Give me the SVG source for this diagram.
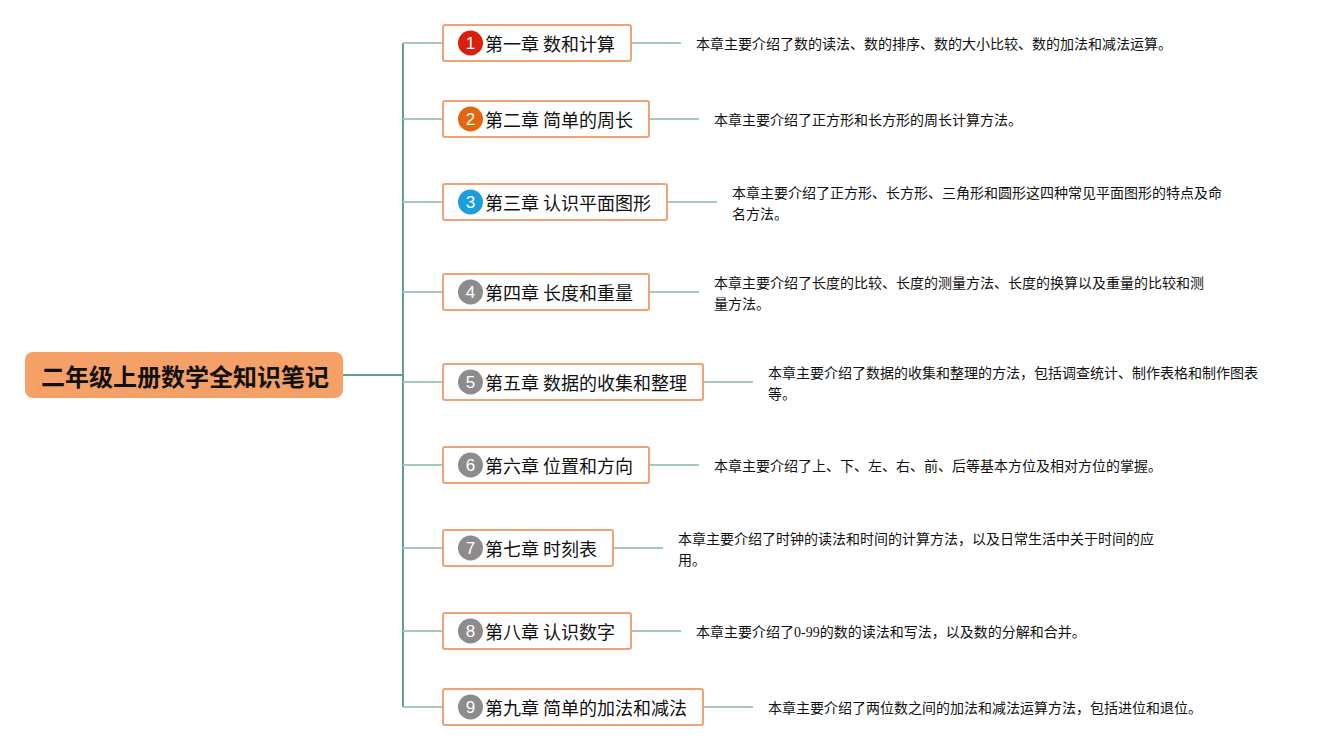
<svg xmlns="http://www.w3.org/2000/svg" width="1328" height="750" viewBox="0 0 1328 750">
<style>
text{font-family:"Noto Sans CJK SC","Liberation Sans",sans-serif;fill:#111}
.box{fill:#fff;stroke:#efa273;stroke-width:2}
.tt{font-size:18px}
.d{font-size:14px}
.n{font-family:"Liberation Sans",sans-serif;font-size:17px;fill:#fff;text-anchor:middle}
.l{fill:none;stroke:#a5c9bd;stroke-width:2}
.g{fill:#8e8b8c}
</style>
<rect width="1328" height="750" fill="#fff"/>
<g id="connectors">
<path d="M343 375H403" fill="none" stroke="#5f9d8c" stroke-width="2"/>
<path d="M403 43V707" fill="none" stroke="#5f9d8c" stroke-width="2"/>
<path class="l" d="M403 43H443M403 119H443M403 202H443M403 292H443M403 382H443M403 465H443M403 548H443M403 631H443M403 707H443"/>
<path class="l" d="M631 43H681M649 119H699M667 202H717M649 292H699M703 382H753M649 465H699M613 548H663M631 631H681M703 707H753"/>
</g>
<g id="root"><rect x="25" y="352" width="318" height="46" rx="8" fill="#f4a067"/><text x="41" y="386" font-size="24" font-weight="700">二年级上册数学全知识笔记</text></g>
<g id="n1"><rect class="box" x="443" y="25" width="188" height="36" rx="2"/><circle cx="470.500" cy="43" r="12.500" fill="#d9200c"/><text class="n" x="470.500" y="49">1</text><text class="tt" x="485" y="51">第一章 数和计算</text><text class="d" x="696" y="49">本章主要介绍了数的读法、数的排序、数的大小比较、数的加法和减法运算。</text></g>
<g id="n2"><rect class="box" x="443" y="101" width="206" height="36" rx="2"/><circle cx="470.500" cy="119" r="12.500" fill="#e4650f"/><text class="n" x="470.500" y="125">2</text><text class="tt" x="485" y="127">第二章 简单的周长</text><text class="d" x="714" y="125">本章主要介绍了正方形和长方形的周长计算方法。</text></g>
<g id="n3"><rect class="box" x="443" y="184" width="224" height="36" rx="2"/><circle cx="470.500" cy="202" r="12.500" fill="#1c9ddd"/><text class="n" x="470.500" y="208">3</text><text class="tt" x="485" y="210">第三章 认识平面图形</text><text class="d" x="732" y="198">本章主要介绍了正方形、长方形、三角形和圆形这四种常见平面图形的特点及命</text><text class="d" x="732" y="219">名方法。</text></g>
<g id="n4"><rect class="box" x="443" y="274" width="206" height="36" rx="2"/><circle class="g" cx="470.500" cy="292" r="12.500"/><text class="n" x="470.500" y="298">4</text><text class="tt" x="485" y="300">第四章 长度和重量</text><text class="d" x="714" y="288">本章主要介绍了长度的比较、长度的测量方法、长度的换算以及重量的比较和测</text><text class="d" x="714" y="309">量方法。</text></g>
<g id="n5"><rect class="box" x="443" y="364" width="260" height="36" rx="2"/><circle class="g" cx="470.500" cy="382" r="12.500"/><text class="n" x="470.500" y="388">5</text><text class="tt" x="485" y="390">第五章 数据的收集和整理</text><text class="d" x="768" y="378">本章主要介绍了数据的收集和整理的方法，包括调查统计、制作表格和制作图表</text><text class="d" x="768" y="399">等。</text></g>
<g id="n6"><rect class="box" x="443" y="447" width="206" height="36" rx="2"/><circle class="g" cx="470.500" cy="465" r="12.500"/><text class="n" x="470.500" y="471">6</text><text class="tt" x="485" y="473">第六章 位置和方向</text><text class="d" x="714" y="471">本章主要介绍了上、下、左、右、前、后等基本方位及相对方位的掌握。</text></g>
<g id="n7"><rect class="box" x="443" y="530" width="170" height="36" rx="2"/><circle class="g" cx="470.500" cy="548" r="12.500"/><text class="n" x="470.500" y="554">7</text><text class="tt" x="485" y="556">第七章 时刻表</text><text class="d" x="678" y="544">本章主要介绍了时钟的读法和时间的计算方法，以及日常生活中关于时间的应</text><text class="d" x="678" y="565">用。</text></g>
<g id="n8"><rect class="box" x="443" y="613" width="188" height="36" rx="2"/><circle class="g" cx="470.500" cy="631" r="12.500"/><text class="n" x="470.500" y="637">8</text><text class="tt" x="485" y="639">第八章 认识数字</text><text class="d" x="696" y="637">本章主要介绍了<tspan font-family="Liberation Serif">0-99</tspan>的数的读法和写法，以及数的分解和合并。</text></g>
<g id="n9"><rect class="box" x="443" y="689" width="260" height="36" rx="2"/><circle class="g" cx="470.500" cy="707" r="12.500"/><text class="n" x="470.500" y="713">9</text><text class="tt" x="485" y="715">第九章 简单的加法和减法</text><text class="d" x="768" y="713">本章主要介绍了两位数之间的加法和减法运算方法，包括进位和退位。</text></g>
</svg>
